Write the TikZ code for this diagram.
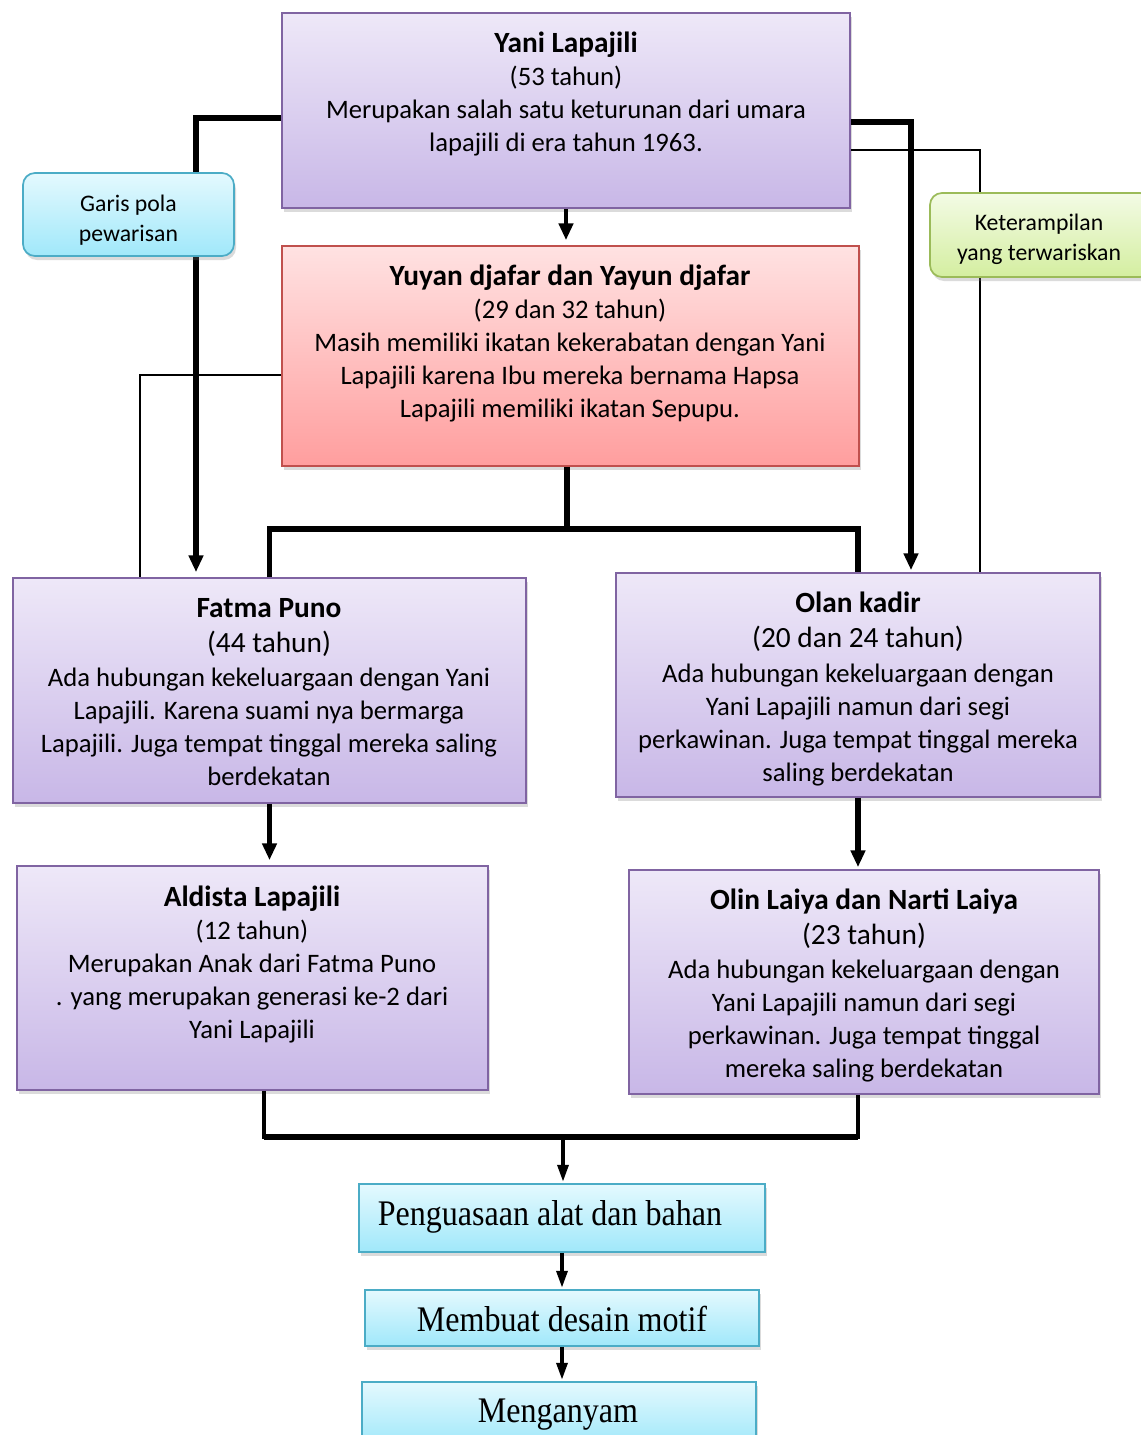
\documentclass[tikz,border=0pt]{standalone}
\usepackage{fontspec}
\setmainfont{Carlito}
\newfontfamily\tnr[FakeStretch=0.89]{Liberation Serif}
\usetikzlibrary{arrows.meta,shadows,calc}
\definecolor{purtop}{RGB}{238,232,248}
\definecolor{purbot}{RGB}{200,183,231}
\definecolor{purline}{RGB}{128,100,162}
\definecolor{redtop}{RGB}{255,226,226}
\definecolor{redbot}{RGB}{255,158,158}
\definecolor{redline}{RGB}{192,80,77}
\definecolor{cyantop}{RGB}{228,249,254}
\definecolor{cyanbot}{RGB}{160,232,250}
\definecolor{cyanline}{RGB}{75,172,198}
\definecolor{greentop}{RGB}{243,251,229}
\definecolor{greenbot}{RGB}{212,238,160}
\definecolor{greenline}{RGB}{155,187,89}
\newcommand\ttl[1]{{\fontsize{22}{24.75}\selectfont\bfseries #1}}
\newcommand\bigline[1]{{\fontsize{22}{24.75}\selectfont #1}}
\begin{document}
\begin{tikzpicture}[x=0.75pt,y=-0.75pt,
  box/.style={rectangle, line width=1.3pt, inner sep=0pt,
    drop shadow={opacity=0.28, shadow xshift=1.5pt, shadow yshift=-3pt}},
  purbox/.style={box, draw=purline, top color=purtop, bottom color=purbot},
  redbox/.style={box, draw=redline, top color=redtop, bottom color=redbot},
  cyanbox/.style={box, draw=cyanline, top color=cyantop, bottom color=cyanbot},
  callcyan/.style={box, rounded corners=9pt, draw=cyanline, top color=cyantop, bottom color=cyanbot},
  callgreen/.style={box, rounded corners=9pt, draw=greenline, top color=greentop, bottom color=greenbot},
  txt/.style={anchor=north, inner sep=0pt, align=center, font=\fontsize{20}{24.75}\selectfont},
  calltxt/.style={inner sep=0pt, align=center, font=\fontsize{17.8}{22.5}\selectfont},
  serif/.style={inner sep=0pt, font=\tnr\fontsize{27}{30}\selectfont},
  heavy/.style={line width=4.2pt},
  mid/.style={line width=3pt},
  thinl/.style={line width=1.1pt},
  arrbig/.style={-{Triangle[length=12.5pt,width=10.5pt]}},
  arrsmall/.style={-{Triangle[length=13pt,width=8pt]}},
]
\fill[white] (0,0) rectangle (1141,1435);
\useasboundingbox (0,0) rectangle (1141,1435);

% boxes
\node[purbox, minimum width=568*0.75pt, minimum height=195*0.75pt] (yani) at (566,110.5) {};
\node[redbox, minimum width=577*0.75pt, minimum height=220*0.75pt] (yuyan) at (570.5,356) {};
\node[purbox, minimum width=513*0.75pt, minimum height=225*0.75pt] (fatma) at (269.5,690.5) {};
\node[purbox, minimum width=484*0.75pt, minimum height=224*0.75pt] (olan) at (858,685) {};
\node[purbox, minimum width=471*0.75pt, minimum height=224*0.75pt] (aldista) at (252.5,978) {};
\node[purbox, minimum width=470*0.75pt, minimum height=224*0.75pt] (olin) at (864,982) {};
\node[cyanbox, minimum width=406*0.75pt, minimum height=68*0.75pt] (peng) at (562,1218) {};
\node[cyanbox, minimum width=394*0.75pt, minimum height=56*0.75pt] (membuat) at (562,1318) {};
\node[cyanbox, minimum width=394*0.75pt, minimum height=64*0.75pt] (menganyam) at (559,1414) {};

% texts
\node[txt] (tyani) at (566,32) {\ttl{Yani Lapajili}\\(53 tahun)\\Merupakan salah satu keturunan dari umara\\lapajili di era tahun 1963.};
\node[txt] (tyuyan) at (570,264.5) {\ttl{Yuyan djafar dan Yayun djafar}\\(29 dan 32 tahun)\\Masih memiliki ikatan kekerabatan dengan Yani\\Lapajili karena Ibu mereka bernama Hapsa\\Lapajili memiliki ikatan Sepupu.};
\node[txt] (tfatma) at (269,598) {\ttl{Fatma Puno}\\[1.5pt]\bigline{(44 tahun)}\\[1pt]Ada hubungan kekeluargaan dengan Yani\\Lapajili. Karena suami nya bermarga\\Lapajili. Juga tempat tinggal mereka saling\\berdekatan};
\node[txt] (tolan) at (858,592) {\ttl{Olan kadir}\\[1.5pt]\bigline{(20 dan 24 tahun)}\\[1pt]Ada hubungan kekeluargaan dengan\\Yani Lapajili namun dari segi\\perkawinan. Juga tempat tinggal mereka\\saling berdekatan};
\node[txt] (taldista) at (252,886) {\ttl{Aldista Lapajili}\\(12 tahun)\\Merupakan Anak dari Fatma Puno\\. yang merupakan generasi ke-2 dari\\Yani Lapajili};
\node[txt] (tolin) at (864,888.5) {\ttl{Olin Laiya dan Narti Laiya}\\[1.5pt]\bigline{(23 tahun)}\\[1pt]Ada hubungan kekeluargaan dengan\\Yani Lapajili namun dari segi\\perkawinan. Juga tempat tinggal\\mereka saling berdekatan};
\node[serif] (tpeng) at (550,1217) {Penguasaan alat dan bahan};
\node[serif] (tmembuat) at (562,1319) {Membuat desain motif};
\node[serif] (tmenganyam) at (558,1415) {Menganyam};

% connectors
\draw[heavy, arrbig] ($(yani.west)+(0,7.5)$) -| ($(fatma.north)+(-73.5,-5)$);
\draw[heavy, arrbig] ($(yani.east)+(0,11.5)$) -| ($(olan.north)+(53,-2)$);
\draw[thinl] ($(yani.east)+(0,39.5)$) -| ($(olan.north)+(122,0)$);
\draw[thinl] ($(yuyan.west)+(0,19)$) -| ($(fatma.north)+(-129.5,0)$);
\draw[mid, arrbig] (yani.south) -- ($(yuyan.north -| yani.south)+(0,-5)$);
\coordinate (split) at ($(yuyan.south)+(-3.5,62)$);
\draw[heavy] ($(yuyan.south)+(-3.5,0)$) -- (split);
\draw[heavy] (fatma.north) |- (split) -| (olan.north);
\draw[heavy, arrbig] (fatma.south) -- ($(aldista.north -| fatma.south)+(0,-5)$);
\draw[heavy, arrbig] (olan.south) -- ($(olin.north -| olan.south)+(0,-2)$);
\coordinate (merge) at (563,1137);
\coordinate (ma) at ($(aldista.south)+(11.5,0)$);
\coordinate (mb) at ($(olin.south)+(-6,0)$);
\draw[mid] (ma) |- (merge) -| (mb);
\draw[heavy] (ma |- merge) -- (mb |- merge);
\draw[mid, arrsmall] (merge) -- ($(peng.north)+(1,-1)$);
\draw[mid, arrsmall] (peng.south) -- ($(membuat.north)+(0,-1)$);
\draw[mid, arrsmall] (membuat.south) -- ($(menganyam.north)+(3,-1)$);

% callouts
\node[callcyan, minimum width=211*0.75pt, minimum height=83*0.75pt] (garis) at (128.5,214.5) {};
\node[calltxt] (tgaris) at (128.5,220) {Garis pola\\pewarisan};
\node[callgreen, minimum width=222*0.75pt, minimum height=84*0.75pt] (ket) at (1041,235) {};
\node[calltxt] (tket) at (1039,239) {Keterampilan\\yang terwariskan};
\end{tikzpicture}
\end{document}
